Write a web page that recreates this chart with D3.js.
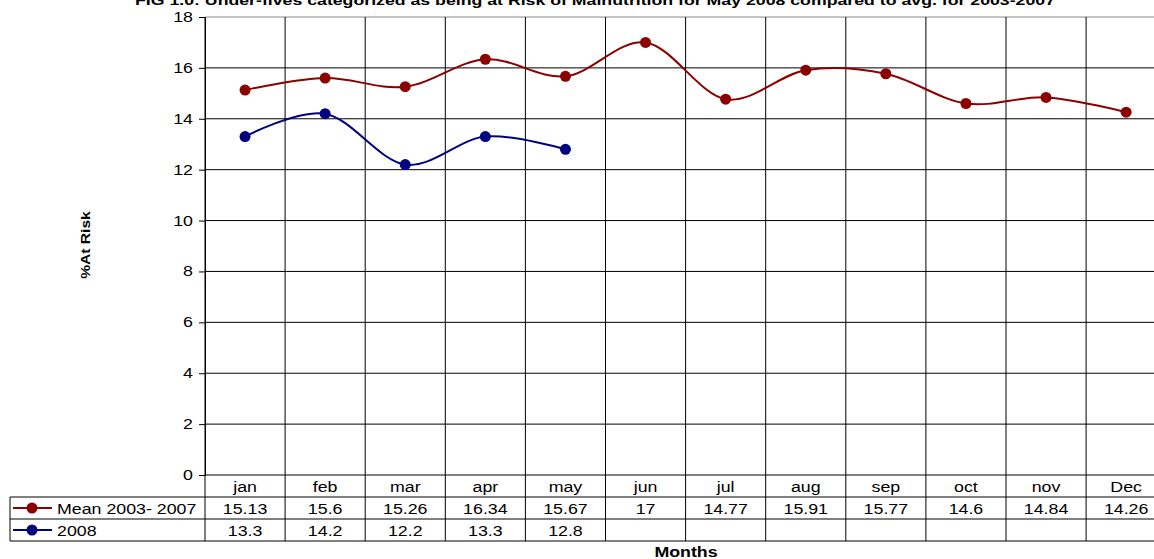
<!DOCTYPE html>
<html lang="en">
  <head>
    <meta charset="UTF-8" />
    <script src="https://d3js.org/d3.v7.min.js"></script>
    <title>At Risk of Malnutrition</title>
    <style>
      body { margin: 0; background: #fff; }
      svg { font-family: "Liberation Sans", Arial, sans-serif; }
    </style>
  </head>
  <body>
    <script>
      const months = ["jan", "feb", "mar", "apr", "may", "jun", "jul", "aug", "sep", "oct", "nov", "Dec"];
      const mean0307 = [15.13, 15.6, 15.26, 16.34, 15.67, 17, 14.77, 15.91, 15.77, 14.6, 14.84, 14.26];
      const y2008 = [13.3, 14.2, 12.2, 13.3, 12.8];
      const seriesNames = ["Mean 2003- 2007", "2008"];
      const yTicks = [0, 2, 4, 6, 8, 10, 12, 14, 16, 18];

      const W = 1154, H = 559;
      const plotLeft = 205, colW = 80.1, plotTop = 17, plotBottom = 475;
      const tableLeft = 10, rowH = 22;
      const stretch = 1.27; // the original text is wide, like a scaled excel image

      let svg = d3.select("body").append("svg").attr("width", W).attr("height", H);

      let x = d3.scaleBand().domain(months).range([plotLeft, plotLeft + colW * months.length]);
      let y = d3.scaleLinear().domain([0, 18]).range([plotBottom, plotTop]);

      // text drawn with a horizontal stretch around its anchor
      function wideText(g, tx, ty, str, size, anchor, bold) {
        return g.append("text")
          .attr("transform", `translate(${tx},${ty}) scale(${stretch},1)`)
          .attr("text-anchor", anchor || "middle")
          .style("font-size", size + "px")
          .style("font-weight", bold ? "bold" : "normal")
          .text(str);
      }

      // title (partly off the top like the original)
      svg.append("text")
        .attr("x", 595).attr("y", 5)
        .attr("text-anchor", "middle")
        .attr("textLength", 920).attr("lengthAdjust", "spacingAndGlyphs")
        .style("font-size", "12.5px").style("font-weight", "bold")
        .text("FIG 1.0: Under-fives categorized as being at Risk of Malnutrition for May 2008 compared to avg. for 2003-2007");

      // horizontal grid
      svg.append("g").selectAll("line").data(yTicks).enter().append("line")
        .attr("x1", plotLeft).attr("x2", x.range()[1])
        .attr("y1", d => y(d)).attr("y2", d => y(d))
        .attr("stroke", d => d === 18 ? "#888" : "#000").attr("stroke-width", 1);

      // vertical grid lines run through the table
      let xs = months.map(m => x(m)).concat([x.range()[1]]);
      svg.append("g").selectAll("line").data(xs).enter().append("line")
        .attr("x1", d => d).attr("x2", d => d)
        .attr("y1", plotTop).attr("y2", plotBottom + rowH * 3)
        .attr("stroke", "#000").attr("stroke-width", 1);

      // y axis
      let yAxis = svg.append("g").attr("transform", `translate(${plotLeft},0)`)
        .call(d3.axisLeft(y).tickValues(yTicks).tickSize(6).tickPadding(6));
      yAxis.select(".domain").attr("stroke", "#000");
      yAxis.selectAll(".tick text").remove();
      yTicks.forEach(v => {
        wideText(svg, plotLeft - 12, y(v) + 5, v, 14, "end");
      });

      svg.append("text")
        .attr("transform", "translate(90,245) rotate(-90) scale(1.2,1)")
        .attr("text-anchor", "middle")
        .style("font-size", "13px").style("font-weight", "bold")
        .text("%At Risk");

      // data table
      let t = svg.append("g");
      [plotBottom + rowH, plotBottom + rowH * 2, plotBottom + rowH * 3].forEach(yy => {
        t.append("line").attr("x1", tableLeft).attr("x2", x.range()[1])
          .attr("y1", yy).attr("y2", yy).attr("stroke", "#000");
      });
      t.append("line").attr("x1", tableLeft).attr("x2", tableLeft)
        .attr("y1", plotBottom + rowH).attr("y2", plotBottom + rowH * 3).attr("stroke", "#000");

      months.forEach(m => wideText(t, x(m) + colW / 2, plotBottom + 17, m, 14));

      const colors = ["#8b0000", "#000080"];
      const rows = [mean0307, y2008];
      rows.forEach((vals, i) => {
        let ry = plotBottom + rowH * (i + 1);
        vals.forEach((v, j) => wideText(t, x(months[j]) + colW / 2, ry + 17, v, 14));
        t.append("line").attr("x1", 13).attr("x2", 52)
          .attr("y1", ry + 11).attr("y2", ry + 11)
          .attr("stroke", colors[i]).attr("stroke-width", 2);
        t.append("circle").attr("cx", 32).attr("cy", ry + 11).attr("r", 5.5)
          .attr("fill", colors[i]);
        wideText(t, 57, ry + 17, seriesNames[i], 14, "start");
      });

      wideText(svg, 686, 557, "Months", 14, "middle", true);

      // series
      let line = d3.line()
        .x((d, i) => x(months[i]) + colW / 2)
        .y(d => y(d))
        .curve(d3.curveCardinal.tension(0));

      rows.forEach((vals, i) => {
        svg.append("path").datum(vals)
          .attr("d", line)
          .attr("fill", "none").attr("stroke", colors[i]).attr("stroke-width", 2);
        svg.append("g").selectAll("circle").data(vals).enter().append("circle")
          .attr("cx", (d, j) => x(months[j]) + colW / 2)
          .attr("cy", d => y(d))
          .attr("r", 5.5)
          .attr("fill", colors[i]);
      });
    </script>
  </body>
</html>
